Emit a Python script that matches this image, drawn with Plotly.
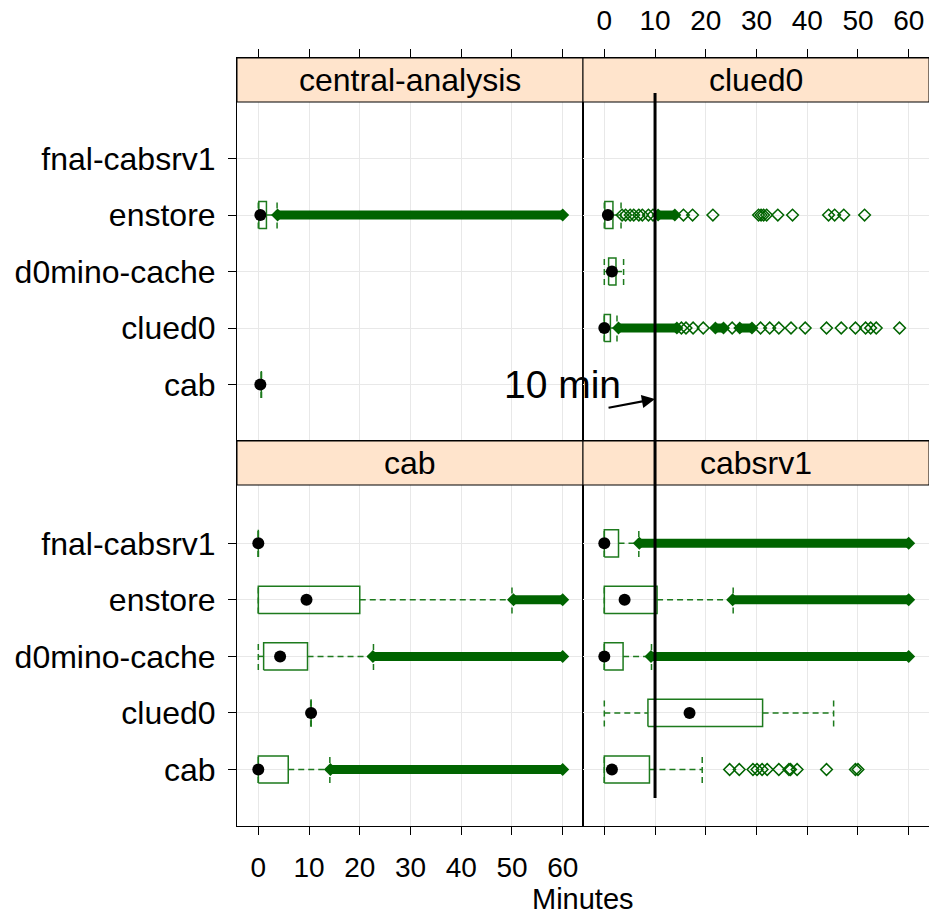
import plotly.graph_objects as go

# ---------------- data (minutes) ----------------
categories = ["cab", "clued0", "d0mino-cache", "enstore", "fnal-cabsrv1"]
panels = ["central-analysis", "clued0", "cab", "cabsrv1"]
x_ticks = [0, 10, 20, 30, 40, 50, 60]
threshold = 10  # "10 min" reference line

# box statistics per panel: category -> [lower whisker, q1, median, q3, upper whisker]
stats_central = {
    "enstore": [0.0, 0.1, 0.4, 1.6, 3.7],
    "cab": [0.6, 0.6, 0.4, 0.6, 0.6],
}
stats_clued0 = {
    "enstore": [0.0, 0.1, 0.7, 1.7, 3.3],
    "d0mino-cache": [0.0, 0.85, 1.5, 2.3, 3.8],
    "clued0": [0.0, 0.0, 0.0, 1.2, 2.5],
}
stats_cab = {
    "fnal-cabsrv1": [0.0, 0.0, 0.0, 0.0, 0.0],
    "enstore": [0.0, 0.0, 9.5, 20.0, 50.0],
    "d0mino-cache": [0.0, 1.05, 4.3, 9.7, 22.7],
    "clued0": [10.4, 10.4, 10.4, 10.4, 10.4],
    "cab": [0.0, 0.0, 0.0, 5.9, 14.1],
}
stats_cabsrv1 = {
    "fnal-cabsrv1": [0.0, 0.0, 0.0, 2.8, 6.8],
    "enstore": [0.0, 0.0, 4.0, 10.4, 25.4],
    "d0mino-cache": [0.0, 0.0, 0.0, 3.7, 9.3],
    "clued0": [0.0, 8.6, 16.8, 31.2, 45.2],
    "cab": [0.0, 0.0, 1.5, 8.9, 19.3],
}

# ranges of outliers so dense they merge into a solid band: category -> [(start, end)]
bands_central = {"enstore": [(3.8, 60.0)]}
bands_clued0 = {
    "enstore": [(10.6, 13.9)],
    "clued0": [(2.8, 14.3), (21.9, 23.5), (26.7, 29.1)],
}
bands_cab = {
    "enstore": [(50.3, 60.0)],
    "d0mino-cache": [(22.6, 60.0)],
    "cab": [(14.2, 60.0)],
}
bands_cabsrv1 = {
    "fnal-cabsrv1": [(6.9, 60.0)],
    "enstore": [(25.3, 60.0)],
    "d0mino-cache": [(9.2, 60.0)],
}

# individual outliers
points_central = {}
points_clued0 = {
    "enstore": [3.5, 4.2, 5.1, 5.8, 6.8, 7.5, 8.7, 9.6, 15.6, 17.4, 21.4,
                30.4, 30.9, 31.4, 32.0, 34.2, 37.1, 44.2, 45.4, 47.2, 51.3],
    "clued0": [15.2, 16.1, 17.5, 19.5, 25.2, 30.8, 32.6, 34.4, 36.8, 39.6,
               43.8, 46.7, 49.5, 51.5, 52.5, 53.6, 58.2],
}
points_cab = {}
points_cabsrv1 = {
    "cab": [24.7, 26.6, 29.3, 30.1, 31.1, 32.1, 34.4, 36.4, 36.7, 38.0,
            43.8, 49.5, 50.0],
}

panel_data = [
    (stats_central, bands_central, points_central),
    (stats_clued0, bands_clued0, points_clued0),
    (stats_cab, bands_cab, points_cab),
    (stats_cabsrv1, bands_cabsrv1, points_cabsrv1),
]

# ---------------- style ----------------
FONT = "Liberation Sans, Arial, sans-serif"
BOX_COL = "#1d7a1d"
OUT_COL = "#006400"
STRIP_COL = "#ffe4cc"
GRID_COL = "#e8e8e8"
DASH = "6px,4px"
H = 0.24  # box half height (category units)

fig = go.Figure()

axis_ids = ["", "2", "3", "4"]
for k, (stats, bands, points) in enumerate(panel_data):
    xa = "x" + axis_ids[k]
    ya = "y" + axis_ids[k]
    bx, by, wx, wy, tx, ty, mx, my, px, py = [], [], [], [], [], [], [], [], [], []
    band_traces = []
    for cat, (lw, q1, med, q3, uw) in stats.items():
        c = categories.index(cat) + 1
        bx += [q1, q3, q3, q1, q1, None]
        by += [c - H, c - H, c + H, c + H, c - H, None]
        if lw < q1:
            wx += [lw, q1, None]
            wy += [c, c, None]
        if uw > q3:
            wx += [q3, uw, None]
            wy += [c, c, None]
        tx += [lw, lw, None, uw, uw, None]
        ty += [c - H, c + H, None, c - H, c + H, None]
        mx.append(med)
        my.append(c)
    for cat, segs in bands.items():
        c = categories.index(cat) + 1
        for a, b in segs:
            band_traces.append(([a, b], [c, c]))
    for cat, vals in points.items():
        c = categories.index(cat) + 1
        px += vals
        py += [c] * len(vals)

    fig.add_trace(go.Scatter(x=wx, y=wy, xaxis=xa, yaxis=ya, mode="lines",
                             line=dict(color=BOX_COL, width=1.5, dash=DASH),
                             hoverinfo="skip", showlegend=False))
    fig.add_trace(go.Scatter(x=tx, y=ty, xaxis=xa, yaxis=ya, mode="lines",
                             line=dict(color=BOX_COL, width=1.5, dash=DASH),
                             hoverinfo="skip", showlegend=False))
    fig.add_trace(go.Scatter(x=bx, y=by, xaxis=xa, yaxis=ya, mode="lines",
                             line=dict(color=BOX_COL, width=1.5),
                             hoverinfo="skip", showlegend=False))
    for bxx, byy in band_traces:
        fig.add_trace(go.Scatter(x=bxx, y=byy, xaxis=xa, yaxis=ya, mode="lines+markers",
                                 line=dict(color=OUT_COL, width=9),
                                 marker=dict(symbol="diamond", size=10, color=OUT_COL),
                                 hoverinfo="skip", showlegend=False))
    if px:
        fig.add_trace(go.Scatter(x=px, y=py, xaxis=xa, yaxis=ya, mode="markers",
                                 marker=dict(symbol="diamond-open", size=9, color=OUT_COL,
                                             line=dict(width=1.5, color=OUT_COL)),
                                 hoverinfo="skip", showlegend=False))
    fig.add_trace(go.Scatter(x=mx, y=my, xaxis=xa, yaxis=ya, mode="markers",
                             marker=dict(symbol="circle", size=12, color="black"),
                             hoverinfo="skip", showlegend=False))

# ---------------- layout ----------------
W, HGT = 929, 916
ML, MR, MT, MB = 237, 0, 58, 90
plot_h = HGT - MT - MB          # 768
split_px = 441                  # pixel row where upper panels end
y_split = (HGT - MB - split_px) / plot_h
strip_h = 44 / plot_h
up_range = [0, 6.78]
lo_range = [0, 6.81]
XR = [-4.2, 64.0]

def xaxis(domain, anchor, side, labels):
    return dict(domain=domain, anchor=anchor, side=side, range=XR,
                tickvals=x_ticks, ticktext=[str(v) for v in x_ticks],
                showticklabels=labels, ticks="outside", ticklen=8, tickwidth=1,
                tickcolor="black", showline=True, linecolor="black", linewidth=1,
                mirror=True, showgrid=True, gridcolor=GRID_COL, gridwidth=1,
                zeroline=False, tickfont=dict(size=28, color="black", family=FONT),
                ticklabelstandoff=8)

def yaxis(domain, anchor, rng, labels):
    return dict(domain=domain, anchor=anchor, range=rng,
                tickvals=list(range(1, len(categories) + 1)), ticktext=categories,
                showticklabels=labels, ticks="outside" if labels else "",
                ticklen=8, tickcolor="black", showline=True, linecolor="black",
                linewidth=1, mirror=True, showgrid=True, gridcolor=GRID_COL,
                zeroline=False, tickfont=dict(size=32, color="black", family=FONT),
                ticklabelstandoff=6)

fig.update_layout(
    width=W, height=HGT, autosize=False,
    margin=dict(l=ML, r=MR, t=MT, b=MB, pad=0),
    paper_bgcolor="white", plot_bgcolor="white",
    font=dict(family=FONT, color="black"),
    xaxis=xaxis([0, 0.5], "y", "top", False),
    yaxis=yaxis([y_split, 1], "x", up_range, True),
    xaxis2=xaxis([0.5, 1], "y2", "top", True),
    yaxis2=yaxis([y_split, 1], "x2", up_range, False),
    xaxis3=xaxis([0, 0.5], "y3", "bottom", True),
    yaxis3=yaxis([0, y_split], "x3", lo_range, True),
    xaxis4=xaxis([0.5, 1], "y4", "bottom", False),
    yaxis4=yaxis([0, y_split], "x4", lo_range, False),
)

shapes = []
annotations = []
strip_defs = [(0, 0.5, 1 - strip_h, 1), (0.5, 1, 1 - strip_h, 1),
              (0, 0.5, y_split - strip_h, y_split), (0.5, 1, y_split - strip_h, y_split)]
for name, (x0, x1, y0, y1) in zip(panels, strip_defs):
    shapes.append(dict(type="rect", xref="paper", yref="paper", x0=x0, x1=x1,
                       y0=y0, y1=y1, fillcolor=STRIP_COL,
                       line=dict(color="black", width=1), layer="above"))
    annotations.append(dict(text=name, xref="paper", yref="paper",
                            x=(x0 + x1) / 2, y=(y0 + y1) / 2, showarrow=False,
                            xanchor="center", yanchor="middle",
                            font=dict(size=32, color="black", family=FONT)))

def py2paper(p):
    return (HGT - MB - p) / plot_h

# 10-minute reference line
shapes.append(dict(type="line", xref="x2", yref="paper", x0=threshold, x1=threshold,
                   y0=py2paper(798), y1=py2paper(93),
                   line=dict(color="black", width=3), layer="above"))
fig.update_layout(shapes=shapes)

annotations.append(dict(text="", xref="x2", yref="y2", x=threshold,
                        y=(split_px - 399) / (383 / up_range[1]),
                        ax=-48, ay=9, showarrow=True, arrowhead=2, arrowsize=1.2,
                        arrowwidth=2.2, arrowcolor="black"))
annotations.append(dict(text="10 min", xref="paper", yref="paper",
                        x=(562 - ML) / (W - ML), y=py2paper(384), showarrow=False,
                        xanchor="center", yanchor="middle",
                        font=dict(size=39, color="black", family=FONT)))
annotations.append(dict(text="Minutes", xref="paper", yref="paper",
                        x=0.5, y=py2paper(899), showarrow=False,
                        xanchor="center", yanchor="middle",
                        font=dict(size=29, color="black", family=FONT)))
# top axis title, mostly cut off by the picture edge (as in the reference)
annotations.append(dict(text="Latency (in minutes)", xref="paper", yref="paper",
                        x=(849 - ML) / (W - ML), y=py2paper(-19), showarrow=False,
                        xanchor="right", yanchor="middle",
                        font=dict(size=30, color="black", family=FONT)))
fig.update_layout(annotations=annotations)

fig.write_html("out.html", include_plotlyjs=True,
               config={"displayModeBar": False},
               post_script="document.body.style.margin='0';document.body.style.overflow='hidden';")
